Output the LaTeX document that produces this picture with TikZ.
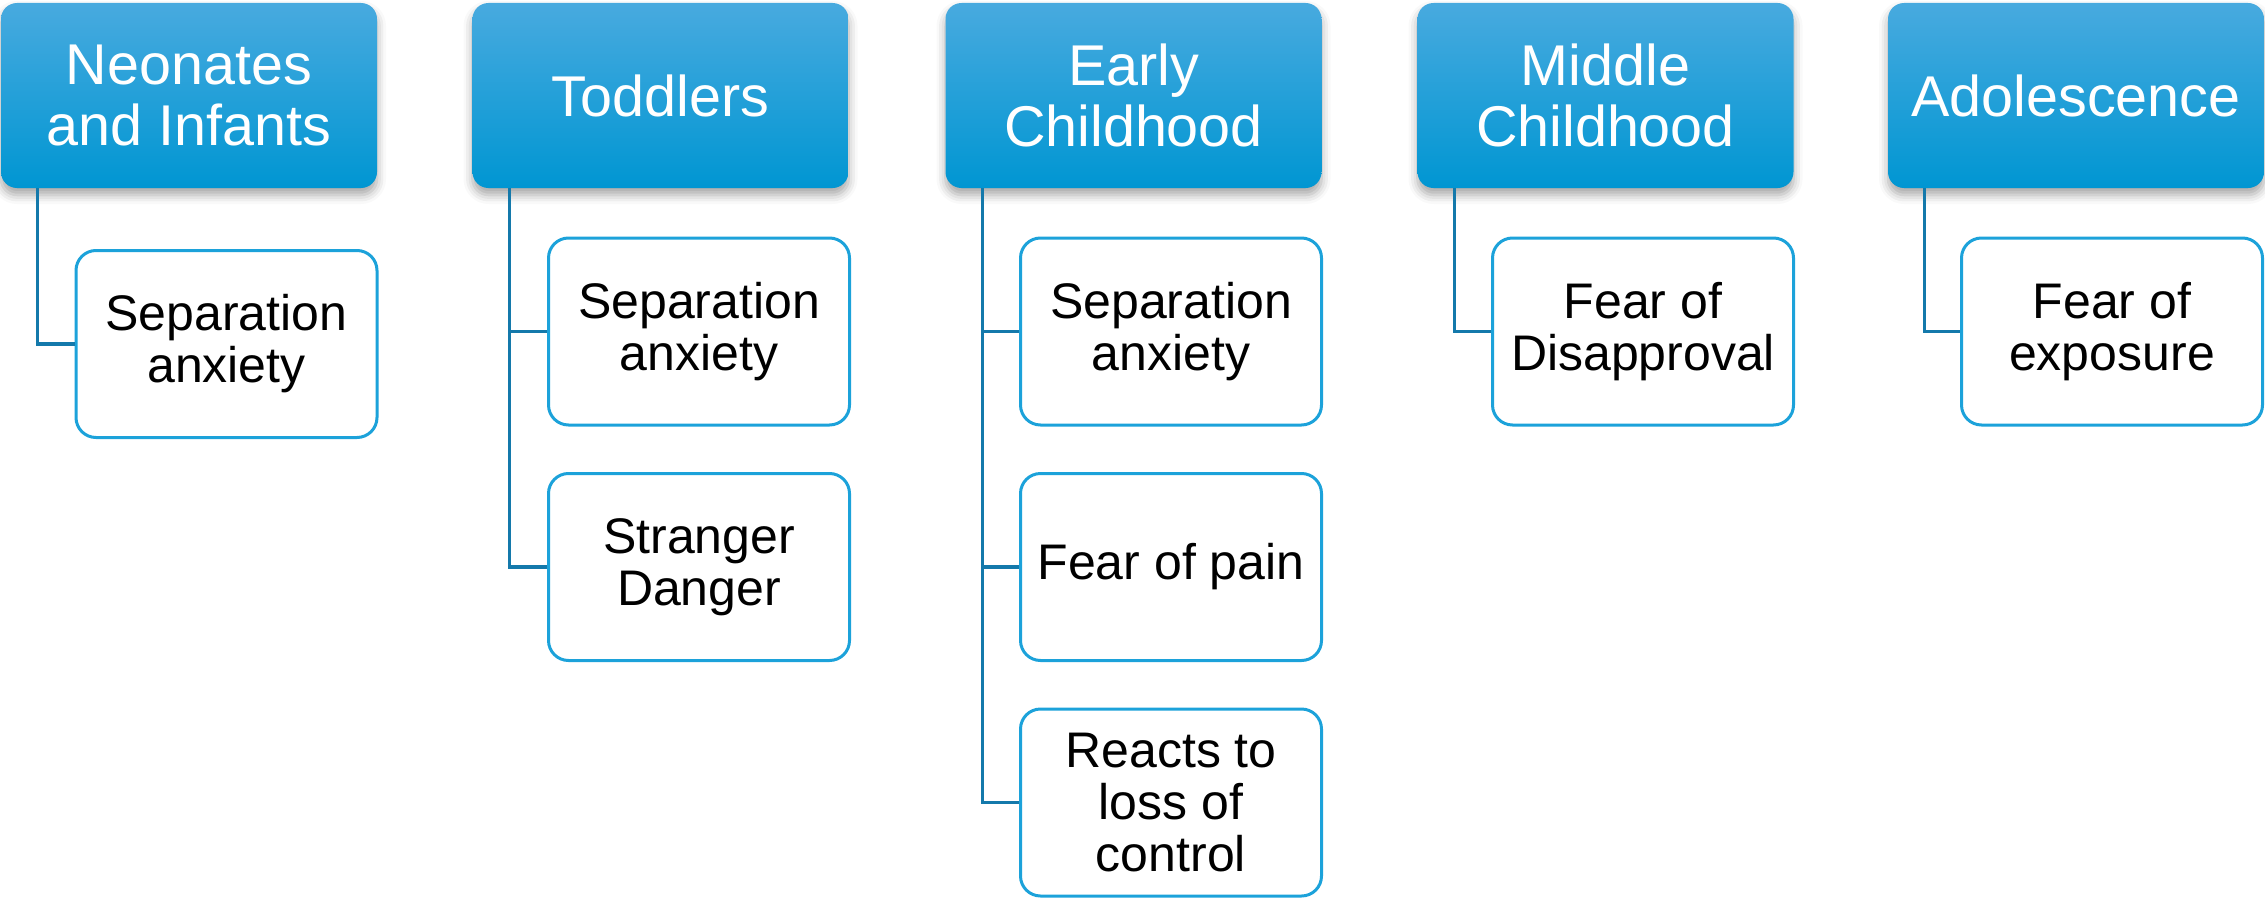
\documentclass[tikz,border=0pt]{standalone}
\usepackage{fontspec}
\setmainfont{Liberation Sans}
\usetikzlibrary{calc,shadows.blur}
\definecolor{hdtop}{HTML}{48AADF}
\definecolor{hdbot}{HTML}{0096D2}
\definecolor{cborder}{HTML}{1CA2DA}
\definecolor{connc}{HTML}{1479AB}
\tikzset{
  header/.style={rectangle, rounded corners=16pt, minimum width=376pt, minimum height=185pt,
    top color=hdtop, bottom color=hdbot, draw=none, text=white, align=center,
    font=\fontsize{57.5}{61}\selectfont,
    blur shadow={shadow xshift=0pt, shadow yshift=-7pt, shadow blur radius=9pt, shadow opacity=35}},
  child/.style={rectangle, rounded corners=20pt, minimum width=301pt, minimum height=187pt,
    draw=cborder, line width=3pt, fill=white, text=black, align=center,
    font=\fontsize{50}{52}\selectfont},
  conn/.style={draw=connc, line width=3.2pt}
}
\begin{document}
\begin{tikzpicture}[x=1pt,y=-1pt]
\useasboundingbox (0,0) rectangle (2265,899);
% headers
\node[header] (h1) at (189,95.5) {Neonates\\and Infants};
\node[header] (h2) at (660.5,95.5) {Toddlers};
\node[header] (h3) at (1133.5,95.5) {Early\\Childhood};
\node[header] (h4) at (1605.5,95.5) {Middle\\Childhood};
\node[header] (h5) at (2076,95.5) {Adolescence};
% connector tops
\coordinate (t1) at ($(h1.south west)+(37,0)$);
\coordinate (t2) at ($(h2.south west)+(37,0)$);
\coordinate (t3) at ($(h3.south west)+(37,0)$);
\coordinate (t4) at ($(h4.south west)+(37,0)$);
\coordinate (t5) at ($(h5.south west)+(37,0)$);
% children
\node[child] (c11) at (226.5,344) {Separation\\anxiety};
\node[child] (c21) at (699,331.5) {Separation\\anxiety};
\node[child] (c22) at (699,567) {Stranger\\Danger};
\node[child] (c31) at (1171,331.5) {Separation\\anxiety};
\node[child] (c32) at (1171,567) {Fear of pain};
\node[child] (c33) at (1171,802.5) {Reacts to\\loss of\\control};
\node[child] (c41) at (1643,331.5) {Fear of\\Disapproval};
\node[child] (c51) at (2112,331.5) {Fear of\\exposure};
% connectors
\draw[conn] (t1) |- (c11.west);
\draw[conn] (t2) |- (c21.west);
\draw[conn] (t2) |- (c22.west);
\draw[conn] (t3) |- (c31.west);
\draw[conn] (t3) |- (c32.west);
\draw[conn] (t3) |- (c33.west);
\draw[conn] (t4) |- (c41.west);
\draw[conn] (t5) |- (c51.west);
\end{tikzpicture}
\end{document}
